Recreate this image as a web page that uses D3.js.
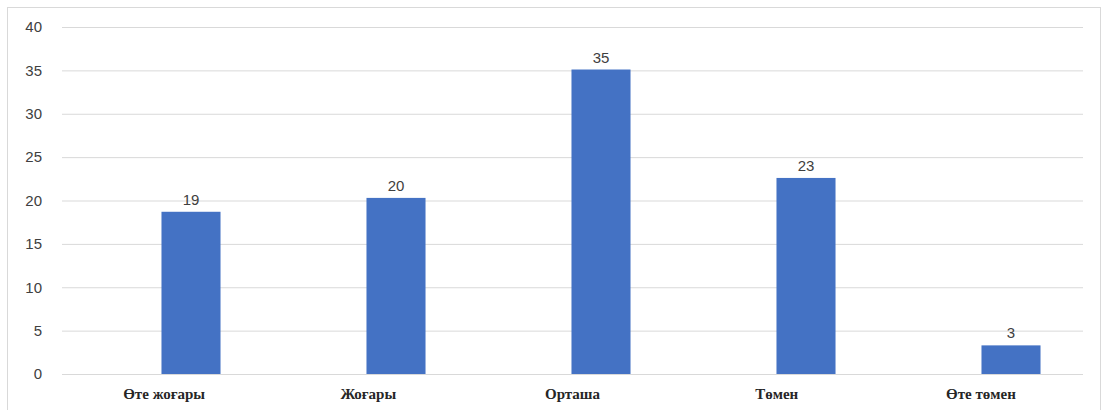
<!DOCTYPE html>
<html><head><meta charset="utf-8">
<script src="https://cdn.jsdelivr.net/npm/d3@7"></script>
<style>body{margin:0;background:#fff;}svg{display:block;}</style>
</head><body>
<script>
const categories = ["Өте жоғары", "Жоғары", "Орташа", "Төмен", "Өте төмен"];
const values = [18.7, 20.3, 35.1, 22.6, 3.3];
const valueLabels = ["19", "20", "35", "23", "3"];
const yTicks = [0, 5, 10, 15, 20, 25, 30, 35, 40];

const W = 1105, H = 410;
const gridLeft = 62, gridRight = 1083;
const svg = d3.select("body").append("svg").attr("width", W).attr("height", H);

svg.append("rect").attr("x", 7.5).attr("y", 7.5).attr("width", 1093).attr("height", 410)
  .attr("fill", "#fff").attr("stroke", "#d9d9d9").attr("stroke-width", 1);

const x = d3.scaleBand().domain(categories).range([88.5, 1113.5]).paddingInner(0.712).paddingOuter(0.356);
const xLab = d3.scaleBand().domain(categories).range([gridLeft, gridRight]);
const y = d3.scaleLinear().domain([0, 40]).range([374, 27]);

const yAxis = d3.axisLeft(y).tickValues(yTicks).tickSize(-(gridRight - gridLeft)).tickPadding(20);
const gy = svg.append("g").attr("transform", `translate(${gridLeft},0)`).call(yAxis);
gy.select(".domain").remove();
gy.selectAll(".tick line").attr("stroke", "#d9d9d9").attr("stroke-width", 1);
gy.selectAll(".tick text").attr("fill", "#404040").style("font-family", "'Liberation Sans', Arial, sans-serif").style("font-size", "15px");

svg.append("g").selectAll("rect").data(values).join("rect")
  .attr("x", (d, i) => x(categories[i]))
  .attr("width", x.bandwidth())
  .attr("y", d => y(d))
  .attr("height", d => y(0) - y(d))
  .attr("fill", "#4472c4");

svg.append("g").selectAll("text").data(values).join("text")
  .attr("x", (d, i) => x(categories[i]) + x.bandwidth() / 2)
  .attr("y", d => y(d) - 7)
  .attr("text-anchor", "middle")
  .attr("fill", "#404040")
  .style("font-family", "'Liberation Sans', Arial, sans-serif")
  .style("font-size", "15px")
  .text((d, i) => valueLabels[i]);

const xAxis = d3.axisBottom(xLab).tickSize(0).tickPadding(14);
const gx = svg.append("g").attr("transform", `translate(0,${y(0)})`).call(xAxis);
gx.select(".domain").remove();
gx.selectAll(".tick text").attr("fill", "#262626").style("font-family", "'Liberation Serif', 'Times New Roman', serif").style("font-size", "15px").style("font-weight", "bold");
</script>
</body></html>
